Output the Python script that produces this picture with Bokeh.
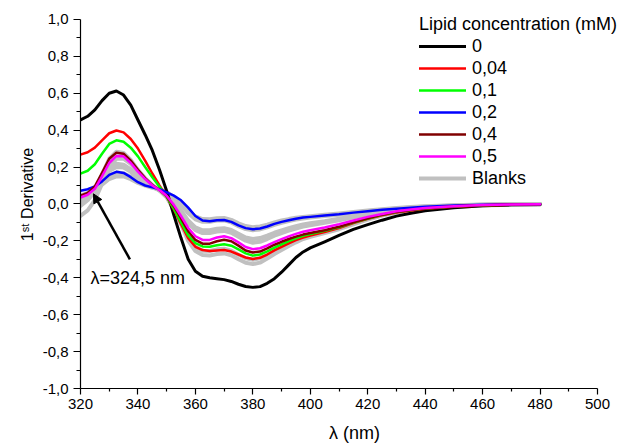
import math
from bokeh.plotting import figure
from bokeh.models import (ColumnDataSource, Range1d, FixedTicker, CustomJSTickFormatter,
                          Legend, LegendItem, Label, Arrow, NormalHead)
from bokeh.embed import file_html
from bokeh.resources import INLINE

# ---------------- data ----------------
WAVELENGTH = [320, 322.5, 325, 327.5, 330, 332.5, 335, 337.5, 340, 342.5, 345, 347.5,
              350, 352.5, 355, 357.5, 360, 362.5, 365, 367.5, 370, 372.5, 375, 377.5,
              380, 382.5, 385, 387.5, 390, 392.5, 395, 397.5, 400, 405, 410, 415, 420,
              425, 430, 435, 440, 450, 460, 470, 480]

CONC_0 = [0.455, 0.475, 0.51, 0.56, 0.60, 0.612, 0.59, 0.535, 0.455, 0.375, 0.29, 0.185,
          0.07, -0.06, -0.185, -0.30, -0.365, -0.392, -0.40, -0.405, -0.41, -0.42, -0.435, -0.447,
          -0.452, -0.448, -0.43, -0.405, -0.37, -0.33, -0.29, -0.26, -0.238, -0.205, -0.17, -0.138, -0.112,
          -0.088, -0.066, -0.05, -0.037, -0.02, -0.01, -0.005, -0.003]
CONC_004 = [0.267, 0.28, 0.305, 0.345, 0.383, 0.398, 0.388, 0.352, 0.30, 0.235, 0.165, 0.10,
            0.04, -0.03, -0.11, -0.185, -0.232, -0.25, -0.255, -0.252, -0.25, -0.258, -0.274, -0.29,
            -0.298, -0.292, -0.274, -0.252, -0.233, -0.214, -0.196, -0.182, -0.171, -0.152, -0.131, -0.104, -0.081,
            -0.061, -0.046, -0.035, -0.026, -0.015, -0.008, -0.004, -0.002]
CONC_01 = [0.164, 0.18, 0.215, 0.272, 0.325, 0.345, 0.337, 0.305, 0.258, 0.2, 0.145, 0.093,
           0.04, -0.025, -0.1, -0.17, -0.212, -0.23, -0.232, -0.224, -0.218, -0.226, -0.246, -0.268,
           -0.28, -0.274, -0.257, -0.237, -0.219, -0.201, -0.186, -0.173, -0.163, -0.146, -0.126, -0.101, -0.079,
           -0.059, -0.044, -0.033, -0.024, -0.013, -0.007, -0.003, -0.002]
CONC_02 = [0.072, 0.08, 0.095, 0.122, 0.158, 0.174, 0.168, 0.145, 0.118, 0.1, 0.09, 0.08,
           0.063, 0.045, 0.02, -0.02, -0.065, -0.09, -0.094, -0.088, -0.087, -0.097, -0.116, -0.131,
           -0.137, -0.133, -0.122, -0.108, -0.097, -0.088, -0.08, -0.074, -0.07, -0.063, -0.056, -0.047, -0.039,
           -0.032, -0.026, -0.02, -0.015, -0.008, -0.004, -0.002, -0.001]
CONC_04 = [0.045, 0.06, 0.095, 0.168, 0.245, 0.278, 0.272, 0.235, 0.185, 0.14, 0.103, 0.075,
           0.042, -0.012, -0.078, -0.148, -0.195, -0.215, -0.215, -0.202, -0.194, -0.202, -0.226, -0.252,
           -0.263, -0.258, -0.241, -0.221, -0.205, -0.19, -0.177, -0.166, -0.157, -0.142, -0.124, -0.1, -0.078,
           -0.058, -0.043, -0.033, -0.024, -0.013, -0.007, -0.003, -0.002]
CONC_05 = [0.035, 0.05, 0.082, 0.15, 0.222, 0.26, 0.258, 0.222, 0.175, 0.135, 0.1, 0.075,
           0.045, -0.005, -0.065, -0.13, -0.175, -0.195, -0.195, -0.182, -0.175, -0.185, -0.208, -0.233,
           -0.245, -0.24, -0.225, -0.207, -0.191, -0.176, -0.162, -0.151, -0.142, -0.128, -0.11, -0.09, -0.07,
           -0.054, -0.04, -0.03, -0.022, -0.012, -0.006, -0.003, -0.001]

BLANK_1 = [-0.01, 0.02, 0.07, 0.16, 0.245, 0.283, 0.276, 0.238, 0.185, 0.14, 0.103, 0.075,
           0.038, -0.03, -0.11, -0.2, -0.255, -0.277, -0.279, -0.271, -0.268, -0.278, -0.3, -0.319,
           -0.326, -0.318, -0.296, -0.271, -0.25, -0.228, -0.208, -0.19, -0.178, -0.158, -0.137, -0.11, -0.085,
           -0.063, -0.047, -0.036, -0.026, -0.015, -0.008, -0.004, -0.002]
BLANK_2 = [-0.065, -0.035, 0.02, 0.11, 0.2, 0.245, 0.246, 0.217, 0.173, 0.133, 0.099, 0.073,
           0.036, -0.028, -0.1, -0.18, -0.232, -0.254, -0.255, -0.246, -0.243, -0.253, -0.275, -0.294,
           -0.302, -0.295, -0.275, -0.252, -0.233, -0.213, -0.195, -0.18, -0.168, -0.15, -0.13, -0.104, -0.081,
           -0.06, -0.045, -0.034, -0.025, -0.014, -0.007, -0.003, -0.002]
BLANK_3 = [0.02, 0.04, 0.08, 0.14, 0.195, 0.218, 0.213, 0.187, 0.152, 0.12, 0.094, 0.073,
           0.045, 0.005, -0.045, -0.105, -0.142, -0.158, -0.158, -0.149, -0.146, -0.156, -0.178, -0.199,
           -0.21, -0.205, -0.19, -0.172, -0.158, -0.145, -0.133, -0.123, -0.115, -0.102, -0.088, -0.072, -0.056,
           -0.043, -0.033, -0.025, -0.018, -0.01, -0.005, -0.003, -0.001]
BLANK_4 = [0.0, 0.025, 0.065, 0.125, 0.178, 0.2, 0.197, 0.174, 0.142, 0.114, 0.092, 0.074,
           0.048, 0.01, -0.035, -0.09, -0.127, -0.143, -0.142, -0.134, -0.131, -0.141, -0.162, -0.182,
           -0.19, -0.185, -0.172, -0.156, -0.143, -0.131, -0.12, -0.111, -0.104, -0.093, -0.08, -0.066, -0.052,
           -0.04, -0.031, -0.023, -0.017, -0.009, -0.005, -0.002, -0.001]
BLANK_5 = [0.045, 0.06, 0.085, 0.12, 0.155, 0.17, 0.166, 0.147, 0.124, 0.106, 0.092, 0.08,
           0.062, 0.035, -0.005, -0.05, -0.083, -0.097, -0.097, -0.09, -0.089, -0.1, -0.12, -0.136,
           -0.142, -0.138, -0.127, -0.113, -0.102, -0.093, -0.085, -0.079, -0.074, -0.066, -0.058, -0.049, -0.04,
           -0.032, -0.025, -0.019, -0.014, -0.008, -0.004, -0.002, -0.001]
BLANK_6 = [0.03, 0.045, 0.07, 0.105, 0.135, 0.15, 0.149, 0.134, 0.114, 0.099, 0.088, 0.079,
           0.064, 0.038, 0.002, -0.038, -0.068, -0.082, -0.083, -0.077, -0.076, -0.086, -0.105, -0.12,
           -0.126, -0.122, -0.112, -0.1, -0.09, -0.082, -0.075, -0.07, -0.066, -0.059, -0.052, -0.044, -0.036,
           -0.029, -0.022, -0.017, -0.012, -0.007, -0.003, -0.002, -0.001]

SERIES_LABELS = ["0", "0,04", "0,1", "0,2", "0,4", "0,5"]
SERIES_DATA = [CONC_0, CONC_004, CONC_01, CONC_02, CONC_04, CONC_05]
SERIES_COLORS = ["#000000", "#FF0000", "#00FF00", "#0000FF", "#800000", "#FF00FF"]
SERIES_WIDTHS = [3, 2.5, 2.5, 2.5, 2.5, 2.5]
BLANKS = [BLANK_1, BLANK_2, BLANK_3, BLANK_4, BLANK_5, BLANK_6]
BLANK_LABEL = "Blanks"
BLANK_COLOR = "#C0C0C0"

X_TICKS = [320, 340, 360, 380, 400, 420, 440, 460, 480, 500]
X_MINOR = [330, 350, 370, 390, 410, 430, 450, 470, 490]
Y_TICKS = [-1.0, -0.8, -0.6, -0.4, -0.2, 0.0, 0.2, 0.4, 0.6, 0.8, 1.0]
Y_MINOR = [-0.9, -0.7, -0.5, -0.3, -0.1, 0.1, 0.3, 0.5, 0.7, 0.9]
X_AXIS_SPAN = (320, 500)
Y_AXIS_SPAN = (-1.0, 1.0)

ANNOT_LAMBDA = 324.5
ANNOT_TEXT = "λ=324,5 nm"
ARROW_HEAD_Y = 0.055
ARROW_TAIL = (337.2, -0.30)

FONT = "Liberation Sans"

# ---------------- layout (pixels) ----------------
W, H = 628, 445
AX_LEFT, AX_RIGHT, AX_TOP, AX_BOTTOM = 80, 597, 19, 390   # where the axes span
# frame extends to the right/top canvas edges so the legend is not clipped
x_per_px = (X_AXIS_SPAN[1] - X_AXIS_SPAN[0]) / (AX_RIGHT - AX_LEFT)
y_per_px = (Y_AXIS_SPAN[1] - Y_AXIS_SPAN[0]) / (AX_BOTTOM - AX_TOP)
x_end = X_AXIS_SPAN[1] + (W - AX_RIGHT) * x_per_px
y_end = Y_AXIS_SPAN[1] + AX_TOP * y_per_px

p = figure(width=W, height=H, x_range=Range1d(X_AXIS_SPAN[0], x_end),
           y_range=Range1d(Y_AXIS_SPAN[0], y_end),
           output_backend="svg", toolbar_location=None,
           min_border_left=AX_LEFT, min_border_right=0, min_border_top=0,
           min_border_bottom=H - AX_BOTTOM)
p.outline_line_color = None
p.grid.visible = False
p.background_fill_color = "white"
p.border_fill_color = "white"

data = {"x": WAVELENGTH}
for i, b in enumerate(BLANKS):
    data[f"b{i}"] = b
for i, s in enumerate(SERIES_DATA):
    data[f"s{i}"] = s
src = ColumnDataSource(data)

blank_renderers = []
for i in range(len(BLANKS)):
    r = p.line("x", f"b{i}", source=src, line_color=BLANK_COLOR, line_width=4,
               line_join="round", line_cap="round")
    blank_renderers.append(r)

series_renderers = []
for i in range(len(SERIES_DATA)):
    r = p.line("x", f"s{i}", source=src, line_color=SERIES_COLORS[i],
               line_width=SERIES_WIDTHS[i], line_join="round", line_cap="round")
    series_renderers.append(r)

# axes
for ax in (p.xaxis[0], p.yaxis[0]):
    ax.axis_line_width = 1.2
    ax.major_tick_line_width = 1.2
    ax.minor_tick_line_width = 1.2
    ax.major_tick_in = 0
    ax.minor_tick_in = 0
    ax.major_label_text_font = FONT
    ax.major_label_text_font_size = "15px"
    ax.major_label_text_color = "#000000"
    ax.axis_line_color = "#000000"
    ax.major_tick_line_color = "#000000"
    ax.minor_tick_line_color = "#000000"

p.xaxis.bounds = X_AXIS_SPAN
p.xaxis.ticker = FixedTicker(ticks=X_TICKS, minor_ticks=X_MINOR)
p.xaxis.major_tick_out = 6
p.xaxis.minor_tick_out = 3
p.xaxis.major_label_standoff = 4
p.xaxis.axis_label = "λ (nm)"
p.xaxis.axis_label_text_font = FONT
p.xaxis.axis_label_text_font_size = "18px"
p.xaxis.axis_label_text_font_style = "normal"
p.xaxis.axis_label_text_color = "#000000"
p.xaxis.axis_label_standoff = 11

p.yaxis.bounds = Y_AXIS_SPAN
p.yaxis.ticker = FixedTicker(ticks=Y_TICKS, minor_ticks=Y_MINOR)
p.yaxis.formatter = CustomJSTickFormatter(code="return tick.toFixed(1).replace('.', ',');")
p.yaxis.major_tick_out = 7
p.yaxis.minor_tick_out = 4
p.yaxis.major_label_standoff = 5
p.yaxis.axis_label = "1ˢᵗ Derivative"
p.yaxis.axis_label_text_font = FONT
p.yaxis.axis_label_text_font_size = "16px"
p.yaxis.axis_label_text_font_style = "normal"
p.yaxis.axis_label_text_color = "#000000"
p.yaxis.axis_label_standoff = 4

# annotation
p.add_layout(Arrow(end=NormalHead(size=9, fill_color="black", line_color="black", line_width=1),
                   x_start=ARROW_TAIL[0], y_start=ARROW_TAIL[1], x_end=ANNOT_LAMBDA, y_end=ARROW_HEAD_Y,
                   line_width=2.5, line_color="black"))
p.add_layout(Label(x=323.5, y=-0.402, text=ANNOT_TEXT, text_font=FONT, text_font_size="18px",
                   text_align="left", text_baseline="middle", text_color="#000000"))

# legend
items = [LegendItem(label=SERIES_LABELS[i], renderers=[series_renderers[i]]) for i in range(len(SERIES_LABELS))]
items.append(LegendItem(label=BLANK_LABEL, renderers=[blank_renderers[0]]))
legend = Legend(items=items, title="Lipid concentration (mM)", location=(339, 199),
                title_text_font=FONT, title_text_font_size="18px", title_text_font_style="normal",
                title_text_color="#000000",
                title_standoff=0, label_text_font=FONT, label_text_font_size="18px",
                label_text_color="#000000",
                label_standoff=6, glyph_width=47, glyph_height=22, label_height=22,
                spacing=0, padding=0, margin=0, border_line_color=None, background_fill_alpha=0)
p.add_layout(legend)

open("out.html", "w").write(file_html(p, INLINE))
